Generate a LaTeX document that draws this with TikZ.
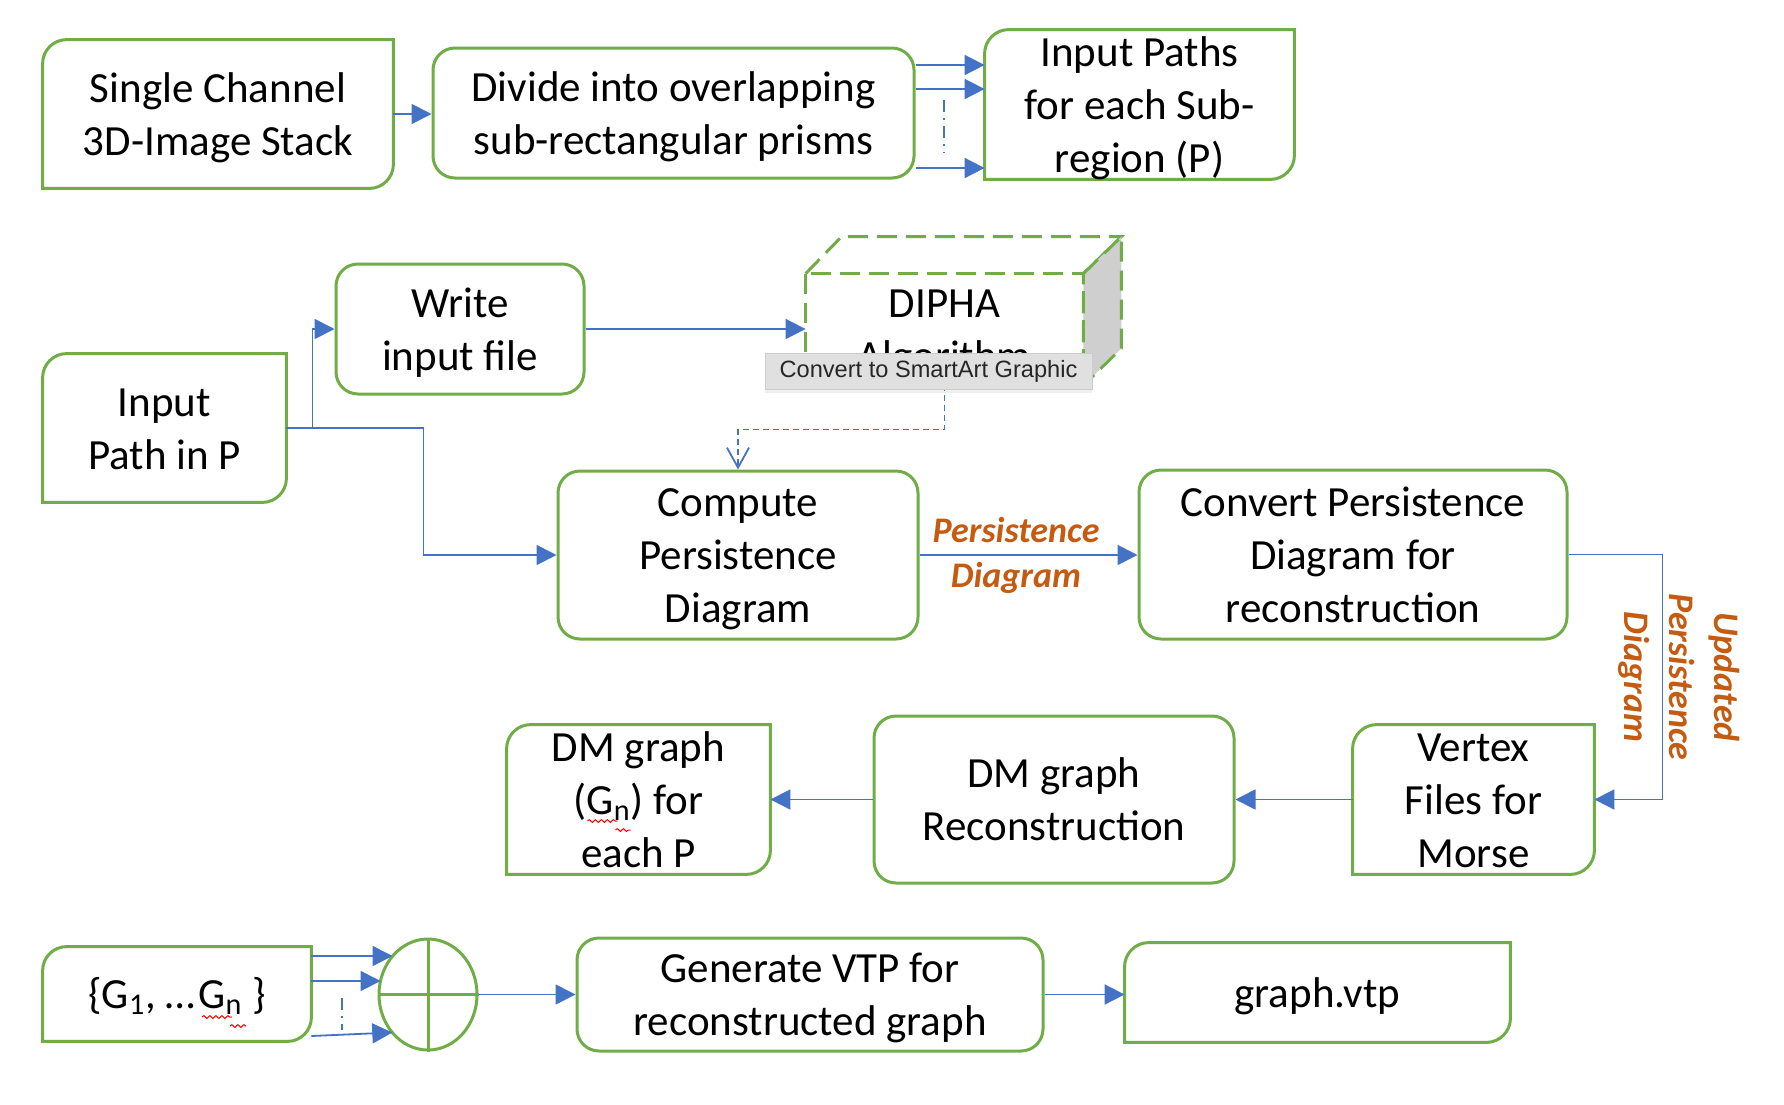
\documentclass[tikz,border=0pt]{standalone}
\usepackage{fontspec}
\setmainfont{Carlito}
\newfontfamily\tipfont{Liberation Sans}
\usetikzlibrary{arrows.meta,shapes.geometric,calc,shadows,decorations.pathmorphing}
\definecolor{bgreen}{HTML}{70AD47}
\definecolor{ablue}{HTML}{4472C4}
\definecolor{lorange}{HTML}{C55A11}
\pgfdeclarelayer{bg}
\pgfdeclarelayer{mid}
\pgfsetlayers{bg,mid,main}
\newcommand\sa{\rule{0pt}{20pt}}
\newcommand\sz{\rule[-5.5pt]{0pt}{5.5pt}}
\newcommand\hround[1]{%
  \begin{pgfonlayer}{mid}
  \draw[bgreen, line width=1.5pt]
    (#1.south west) -- ([yshift=-12pt]#1.north west)
    .. controls ([yshift=-5.4pt]#1.north west) and ([xshift=5.4pt]#1.north west) .. ([xshift=12pt]#1.north west)
    -- (#1.north east) -- ([yshift=12pt]#1.south east)
    .. controls ([yshift=5.4pt]#1.south east) and ([xshift=-5.4pt]#1.south east) .. ([xshift=-12pt]#1.south east)
    -- cycle;
  \end{pgfonlayer}}
\begin{document}
\begin{tikzpicture}[x=0.5pt,y=-0.5pt,
  base/.style={align=center, inner sep=0pt, font=\fontsize{21.5}{26.5}\selectfont},
  rbox/.style={base, draw=bgreen, line width=1.5pt, fill=white, rounded corners=11pt},
  hbox/.style={base, inner ysep=-8pt},
  arr/.style={draw=ablue, line width=0.9pt, -{Triangle[length=10pt,width=10pt]}},
  dotline/.style={draw=ablue, line width=0.9pt, dash pattern=on 6pt off 3pt on 1pt off 3pt},
  lbl/.style={align=center, inner sep=0pt, text=lorange, font=\fontsize{18}{22.5}\selectfont\bfseries\itshape},
  cubeline/.style={draw=bgreen, line width=1.5pt, dash pattern=on 10pt off 4.5pt},
  squig/.style={draw=red, line width=0.5pt, decorate, decoration={snake, amplitude=0.7pt, segment length=3pt}},
  tip/.style={draw=black!20, fill=black!12, line width=0.5pt, text=black!85,
    font=\tipfont\fontsize{11.8}{14}\selectfont, minimum width=163.5pt, minimum height=18pt, inner sep=0pt,
    drop shadow={opacity=0.12, shadow xshift=0pt, shadow yshift=-2pt}}
]
\begin{pgfonlayer}{bg}
\fill[white] (0,0) rectangle (1784,1104);
\end{pgfonlayer}
\useasboundingbox (0,0) rectangle (1784,1104);

% row 1
\node[hbox, minimum width=175pt, minimum height=74pt] (sc) at (218,114) {\sa Single Channel\\3D-Image Stack\sz};
\hround{sc}
\node[rbox, minimum width=240.5pt, minimum height=65pt] (div) at (673.5,113) {\sa Divide into overlapping\\sub-rectangular prisms\sz};
\node[hbox, minimum width=154.5pt, minimum height=74.5pt] (ip) at (1139.5,104.5) {\sa Input Paths\\for each Sub-\\region (P)\sz};
\hround{ip}

\draw[arr] (sc.east) -- (sc.east -| div.west);
\draw[arr] (div.east |- 0,65) -- (ip.west |- 0,65);
\draw[arr] (div.east |- 0,89) -- (ip.west |- 0,89);
\draw[arr] (div.east |- 0,168) -- (ip.west |- 0,168);
\draw[dotline] (944,100) -- (944,153);

% row 2
\node[rbox, minimum width=124pt, minimum height=65pt] (wr) at (460,329) {\sa Write\\input file\sz};
\node[hbox, minimum width=121.5pt, minimum height=74pt] (inp) at (164.5,428) {\sa Input\\Path in P\sz};
\hround{inp}

% DIPHA cube
\node[base, fill=white, minimum width=138.5pt, minimum height=55.5pt] (dip) at (944.5,329.5) {\sa DIPHA\\Algorithm\sz};
\draw[cubeline] (dip.north west) -- ($(dip.north west)+(36,-37)$) -- ($(dip.north east)+(38,-37)$) -- (dip.north east);
\filldraw[cubeline, fill=black!19] (dip.north east) -- ($(dip.north east)+(38,-37)$) -- ($(dip.south east)+(38,-37)$) -- (dip.south east) -- cycle;
\draw[cubeline] (dip.north west) rectangle (dip.south east);

\node[rbox, minimum width=180pt, minimum height=84pt] (comp) at (738,555) {\sa Compute\\Persistence\\Diagram\sz};
\node[rbox, minimum width=214pt, minimum height=84.5pt] (conv) at (1353,554.5) {\sa Convert Persistence\\Diagram for\\reconstruction\sz};

\draw[arr] (inp.east) -- ++(26,0) |- (wr.west);
\draw[arr] (inp.east) -- ++(137,0) |- (comp.west);
\draw[arr] (wr.east) -- (wr.east -| dip.west);
\draw[draw=ablue, line width=0.9pt, dash pattern=on 3pt off 2pt, -{Straight Barb[length=10pt,width=11pt]}] (dip.south) -- ++(0,44) -| (comp.north);
\draw[arr] (comp.east) -- (comp.east -| conv.west);
\node[lbl] (pdl) at (1016,555) {Persistence\\Diagram};

% row 3
\node[hbox, minimum width=120.5pt, minimum height=74.5pt] (vert) at (1473.5,799.5) {\sa Vertex\\Files for\\Morse\sz};
\hround{vert}
\node[rbox, minimum width=180pt, minimum height=83.5pt] (dmr) at (1054,799.5) {\sa DM graph\\Reconstruction\sz};
\node[hbox, minimum width=131.5pt, minimum height=74.5pt] (dmg) at (638.5,799.5) {\sa DM graph\\(G\textsubscript{n}) for\\each P\sz};
\hround{dmg}

\draw[arr] (conv.east) -- ++(94,0) |- (vert.east);
\node[lbl, rotate=-90] (upd) at (1679,677) {Updated\\Persistence\\Diagram};
\draw[arr] (vert.west) -- (vert.west -| dmr.east);
\draw[arr] (dmr.west) -- (dmr.west -| dmg.east);
\draw[squig] ($(dmg.center)+(-51,21.5)$) -- ++(30,0);
\draw[squig] ($(dmg.center)+(-23,30.5)$) -- ++(15,0);

% row 4
\node[hbox, minimum width=134pt, minimum height=47pt] (gs) at (177,994) {\sa\{G\textsubscript{1}, …\kern1.5pt G\textsubscript{n} \}\sz};
\hround{gs}
\draw[squig] ($(gs.center)+(25,23)$) -- ++(30,0);
\draw[squig] ($(gs.center)+(53,32)$) -- ++(16,0);
\node[draw=bgreen, line width=1.5pt, ellipse, minimum width=49pt, minimum height=55.5pt, inner sep=0pt] (circ) at (428,994.5) {};
\draw[bgreen, line width=1.5pt] (circ.north) -- (circ.south) (circ.west) -- (circ.east);
\node[rbox, minimum width=233pt, minimum height=56.5pt] (gen) at (810,994.5) {\sa Generate VTP for\\reconstructed graph\sz};
\node[hbox, minimum width=192.5pt, minimum height=49.5pt] (vtp) at (1317.5,992.5) {\sa graph.vtp\sz};
\hround{vtp}

\draw[arr] ($(gs.east)+(0,-38)$) -- ($(circ.center)+(-35.5,-38.5)$);
\draw[arr] ($(gs.east)+(0,-13)$) -- ($(circ.center)+(-47.5,-13.5)$);
\draw[arr] ($(gs.east)+(0,42)$) -- ($(circ.center)+(-35.7,38)$);
\draw[dotline] (342,998) -- (342,1030);
\draw[arr] (circ.east) -- (circ.east -| gen.west);
\draw[arr] (gen.east) -- (gen.east -| vtp.west);

% tooltip
\node[tip] (tt) at (928.5,371) {Convert to SmartArt Graphic};
\end{tikzpicture}
\end{document}
